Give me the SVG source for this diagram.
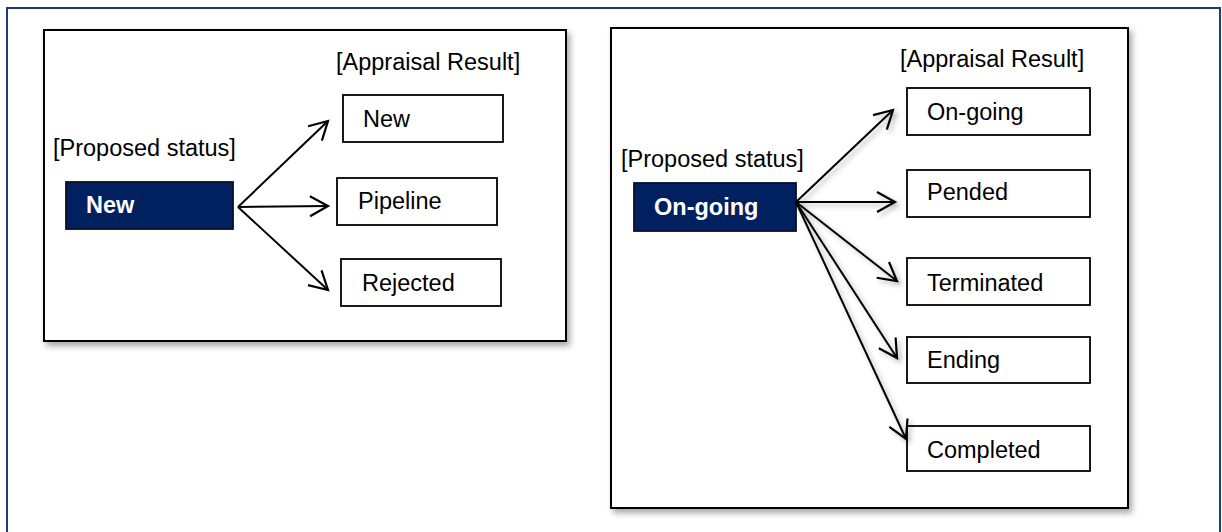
<svg xmlns="http://www.w3.org/2000/svg" width="1222" height="532" viewBox="0 0 1222 532">
<defs>
<filter id="sh" x="-10%" y="-10%" width="125%" height="125%">
<feDropShadow dx="3" dy="4" stdDeviation="3" flood-color="#000" flood-opacity="0.35"/>
</filter>
<filter id="lsh" x="-20%" y="-20%" width="150%" height="150%">
<feDropShadow dx="3" dy="3" stdDeviation="2.5" flood-color="#000" flood-opacity="0.3"/>
</filter>
<marker id="ah" markerUnits="userSpaceOnUse" markerWidth="24" markerHeight="24" viewBox="-20 -12 24 24" refX="0" refY="0" orient="auto">
<path d="M-18,-10 L0,0 L-18,10" fill="none" stroke="#000" stroke-width="2.2"/>
</marker>
</defs>
<style>
.panel{fill:#fff;stroke:#000;stroke-width:2}
.box{fill:#fff;stroke:#000;stroke-width:1.8}
.src{fill:#002060;stroke:#0a0f2a;stroke-width:1.8}
.t{font-family:"Liberation Sans",Arial,sans-serif;font-size:23.5px;fill:#000}
.tb{font-family:"Liberation Sans",Arial,sans-serif;font-size:23.5px;font-weight:bold;fill:#fff}
.c{fill:none;stroke:#000;stroke-width:2;marker-end:url(#ah)}
</style>
<rect x="0" y="0" width="1222" height="532" fill="#fff"/>
<rect id="frame" x="7" y="8" width="1213" height="540" fill="none" stroke="#1f3a7a" stroke-width="2"/>

<g id="panel-left">
<rect class="panel" x="44" y="30" width="522" height="311" filter="url(#sh)"/>
</g>
<g id="panel-right">
<rect class="panel" x="611" y="28" width="517" height="480" filter="url(#sh)"/>
</g>

<g id="labels-left">
<text class="t" x="336" y="70">[Appraisal Result]</text>
<text class="t" x="53" y="156">[Proposed status]</text>
</g>
<g id="labels-right">
<text class="t" x="900" y="67">[Appraisal Result]</text>
<text class="t" x="621" y="167">[Proposed status]</text>
</g>

<g id="src-new">
<rect class="src" x="66" y="182" width="167" height="47"/>
<text class="tb" x="86" y="213">New</text>
</g>
<g id="res-new">
<rect class="box" x="343" y="95" width="160" height="47"/>
<text class="t" x="363" y="127">New</text>
</g>
<g id="res-pipeline">
<rect class="box" x="337" y="178" width="160" height="47"/>
<text class="t" x="358" y="209">Pipeline</text>
</g>
<g id="res-rejected">
<rect class="box" x="341" y="259" width="160" height="47"/>
<text class="t" x="362" y="291">Rejected</text>
</g>

<g id="src-ongoing">
<rect class="src" x="634" y="183" width="162" height="48"/>
<text class="tb" x="654" y="215">On-going</text>
</g>
<g id="res-ongoing">
<rect class="box" x="907" y="88" width="183" height="47"/>
<text class="t" x="927" y="120">On-going</text>
</g>
<g id="res-pended">
<rect class="box" x="907" y="170" width="183" height="47"/>
<text class="t" x="927" y="200">Pended</text>
</g>
<g id="res-terminated">
<rect class="box" x="907" y="258" width="183" height="47"/>
<text class="t" x="927" y="291">Terminated</text>
</g>
<g id="res-ending">
<rect class="box" x="907" y="337" width="183" height="46"/>
<text class="t" x="927" y="368">Ending</text>
</g>
<g id="res-completed">
<rect class="box" x="907" y="426" width="183" height="45"/>
<text class="t" x="927" y="458">Completed</text>
</g>

<g id="connectors">
<line class="c" x1="238" y1="207" x2="328" y2="121"/>
<line class="c" x1="238" y1="207" x2="328" y2="206"/>
<line class="c" x1="238" y1="207" x2="328" y2="290"/>
<g filter="url(#lsh)">
<line class="c" x1="796" y1="202" x2="893" y2="110"/>
<line class="c" x1="796" y1="202" x2="895" y2="202"/>
<line class="c" x1="796" y1="202" x2="897" y2="281"/>
<line class="c" x1="796" y1="202" x2="897" y2="358"/>
<line class="c" x1="796" y1="202" x2="906" y2="439"/>
</g>
</g>
</svg>
